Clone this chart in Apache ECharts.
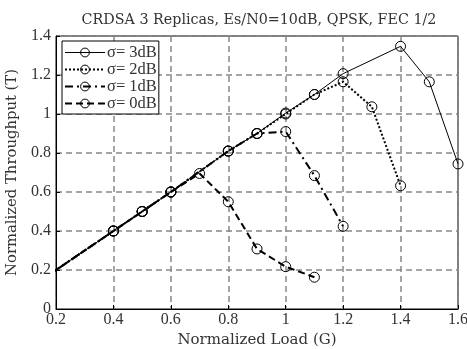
<!DOCTYPE html>
<html><head><meta charset="utf-8">
<script src="https://cdn.jsdelivr.net/npm/echarts@6/dist/echarts.min.js"></script>
<style>html,body{margin:0;padding:0;background:#fff}#c{width:467px;height:349px}</style>
</head><body><div id="c"></div>
<script>
const titleText = 'CRDSA 3 Replicas, Es/N0=10dB, QPSK, FEC 1/2';
const xName = 'Normalized Load (G)';
const yName = 'Normalized Throughput (T)';
const seriesNames = ['σ= 3dB', 'σ= 2dB', 'σ= 1dB', 'σ= 0dB'];
const loads3 = [0, 0.4, 0.5, 0.6, 0.8, 0.9, 1.0, 1.1, 1.2, 1.4, 1.5, 1.6];
const thr3   = [0, 0.4, 0.5, 0.6, 0.81, 0.9, 1.005, 1.1, 1.207, 1.347, 1.165, 0.744];
const loads2 = [0, 0.4, 0.5, 0.6, 0.8, 0.9, 1.0, 1.1, 1.2, 1.3, 1.4];
const thr2   = [0, 0.4, 0.5, 0.6, 0.81, 0.9, 1.0, 1.1, 1.165, 1.037, 0.632];
const loads1 = [0, 0.4, 0.5, 0.6, 0.8, 0.9, 1.0, 1.1, 1.2];
const thr1   = [0, 0.4, 0.5, 0.6, 0.81, 0.9, 0.91, 0.684, 0.424];
const loads0 = [0, 0.4, 0.5, 0.6, 0.7, 0.8, 0.9, 1.0, 1.1];
const thr0   = [0, 0.4, 0.5, 0.6, 0.695, 0.55, 0.308, 0.217, 0.163];

const font = 'DejaVu Serif';
const font2 = 'Liberation Serif';
const txt = '#333';
const pair = (xs, ys) => xs.map((x, i) => [x, ys[i]]);
const lineTypes = ['solid', 'dotted', [8, 4, 2, 4], [7, 4]];
const widths = [1, 2, 2, 2];
const datasets = [pair(loads3, thr3), pair(loads2, thr2), pair(loads1, thr1), pair(loads0, thr0)];
const fmt = v => String(+v.toFixed(1));

const chart = echarts.init(document.getElementById('c'));
chart.setOption({
  animation: false,
  title: { text: titleText, left: 254, top: 8, textAlign: 'center',
    textStyle: { fontFamily: font, fontSize: 14.3, fontWeight: 'normal', color: txt } },
  grid: { left: 56, right: 9, top: 36, bottom: 40, show: true, borderColor: '#000', borderWidth: 1,
    containLabel: false, outerBoundsMode: 'none' },
  legend: {
    orient: 'vertical', left: 62, top: 41,
    data: seriesNames.map((n, i) => ({ name: n,
      lineStyle: { width: widths[i], type: lineTypes[i], color: '#000' },
      itemStyle: { borderWidth: 1, borderColor: '#000', color: 'rgba(0,0,0,0)' } })),
    borderColor: '#000', borderWidth: 1, backgroundColor: '#fff',
    padding: [3, 2, 2, 2], itemGap: 0, itemWidth: 40, itemHeight: 11,
    textStyle: { fontFamily: font2, fontSize: 16.5, color: txt, lineHeight: 15, padding: [0, 0, 0, -3] }
  },
  xAxis: {
    type: 'value', min: 0.2, max: 1.6, interval: 0.2,
    name: xName, nameLocation: 'middle', nameGap: 21,
    nameTextStyle: { fontFamily: font, fontSize: 15, color: txt },
    axisLine: { show: true, lineStyle: { color: '#000' } },
    axisTick: { inside: true, length: 4, lineStyle: { color: '#000' } },
    axisLabel: { formatter: fmt, fontFamily: font2, fontSize: 16, color: txt, margin: 3 },
    splitLine: { show: true, lineStyle: { color: '#888', type: [6, 4], width: 1.5 } }
  },
  yAxis: {
    type: 'value', min: 0, max: 1.4, interval: 0.2,
    name: yName, nameLocation: 'middle', nameGap: 33,
    nameTextStyle: { fontFamily: font, fontSize: 14.8, color: txt },
    axisLine: { show: true, lineStyle: { color: '#000' } },
    axisTick: { inside: true, length: 4, lineStyle: { color: '#000' } },
    axisLabel: { formatter: fmt, fontFamily: font2, fontSize: 16, color: txt, margin: 5 },
    splitLine: { show: true, lineStyle: { color: '#888', type: [6, 4], width: 1.5 } }
  },
  series: datasets.map((d, i) => ({
    name: seriesNames[i], type: 'line', data: d, clip: true,
    symbol: 'circle', symbolSize: 10, z: 10 - i,
    itemStyle: { color: 'rgba(0,0,0,0)', borderColor: '#000', borderWidth: 1 },
    lineStyle: { color: '#000', width: widths[i], type: lineTypes[i] }
  }))
});
</script></body></html>
